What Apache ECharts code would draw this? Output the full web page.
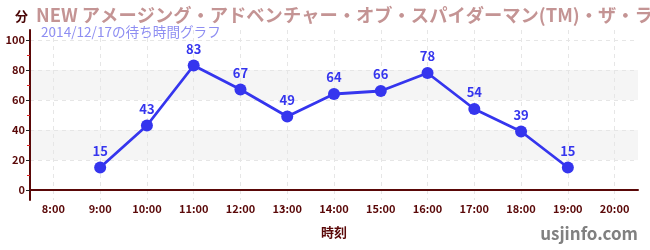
<!DOCTYPE html>
<html><head><meta charset="utf-8">
<script src="https://cdn.jsdelivr.net/npm/echarts@6/dist/echarts.min.js"></script>
<style>html,body{margin:0;padding:0;background:#fff}#c{width:650px;height:250px}</style>
</head><body><div id="c"></div>
<script>
const categories = ['8:00','9:00','10:00','11:00','12:00','13:00','14:00','15:00','16:00','17:00','18:00','19:00','20:00'];
const waitTimes = [null,15,43,83,67,49,64,66,78,54,39,15,null];
const yTickLabels = [0,20,40,60,80,100];
const titleText = 'NEW アメージング・アドベンチャー・オブ・スパイダーマン(TM)・ザ・ライド 4K3D';
const subTitleText = '2014/12/17の待ち時間グラフ';

const FONT = '"Noto Sans CJK JP", "Noto Sans", sans-serif';
const axisColor = '#5a0808';
const chart = echarts.init(document.getElementById('c'));
chart.setOption({
  animation: false,
  textStyle: { fontFamily: FONT },
  grid: [
    { left: 30, right: 12, top: 30, bottom: 50 },
    { left: 30, right: 12, top: 40, bottom: 60 }
  ],
  title: [
    { text: titleText, left: 31, top: 1, textStyle: { fontFamily: FONT, fontSize: 18.3, fontWeight: 'bold', color: '#c49494' } },
    { text: subTitleText, left: 36, top: 20, textStyle: { fontFamily: FONT, fontSize: 13.6, fontWeight: 'normal', color: '#8e8ef2' } },
    { text: '分', left: 10, top: 5, textStyle: { fontFamily: FONT, fontSize: 13, fontWeight: 'bold', color: '#4a0606' } }
  ],
  graphic: [
    { type: 'text', right: 12, bottom: 8, style: { text: 'usjinfo.com', font: 'bold 17px ' + FONT, fill: '#808080' } }
  ],
  xAxis: [
    {
      type: 'category', gridIndex: 0, data: categories, boundaryGap: true,
      name: '時刻', nameLocation: 'middle', nameGap: 26,
      nameTextStyle: { color: axisColor, fontSize: 13, fontWeight: 'bold', fontFamily: FONT },
      axisLine: { lineStyle: { color: axisColor, width: 2 } },
      axisTick: { alignWithLabel: true, inside: true, length: 4, lineStyle: { color: '#555' } },
      axisLabel: { color: axisColor, fontSize: 11, fontWeight: 'bold', margin: 3, fontFamily: FONT },
      splitLine: { show: true, alignWithLabel: true, lineStyle: { color: '#e6e6e6', type: [4, 4] } }
    },
    { type: 'category', gridIndex: 1, data: categories, show: false }
  ],
  yAxis: [
    {
      type: 'value', gridIndex: 0, min: -20 / 3, max: 320 / 3,
      axisLine: { show: true, lineStyle: { color: axisColor, width: 2 } },
      axisTick: { show: false }, axisLabel: { show: false }, splitLine: { show: false }
    },
    {
      type: 'value', gridIndex: 1, min: 0, max: 100, interval: 20,
      axisLine: { show: false },
      axisTick: { show: true, length: 4, lineStyle: { color: '#222' } },
      minorTick: { show: true, splitNumber: 2, length: 3, lineStyle: { color: '#e02020' } },
      axisLabel: { color: axisColor, fontSize: 11, fontWeight: 'bold', margin: 5, fontFamily: FONT },
      splitLine: { show: true, lineStyle: { color: '#e6e6e6', type: [4, 4] } },
      splitArea: { show: true, areaStyle: { color: ['rgba(0,0,0,0)', '#f5f5f5'] } }
    }
  ],
  series: [{
    type: 'line', xAxisIndex: 0, yAxisIndex: 0, data: waitTimes,
    symbol: 'circle', symbolSize: 12, connectNulls: false,
    lineStyle: { color: '#3535ee', width: 2.8 },
    itemStyle: { color: '#3535ee' },
    label: { show: true, position: 'top', distance: 4, color: '#3535ee', fontSize: 13, fontWeight: 'bold', fontFamily: FONT }
  }]
});
</script></body></html>
